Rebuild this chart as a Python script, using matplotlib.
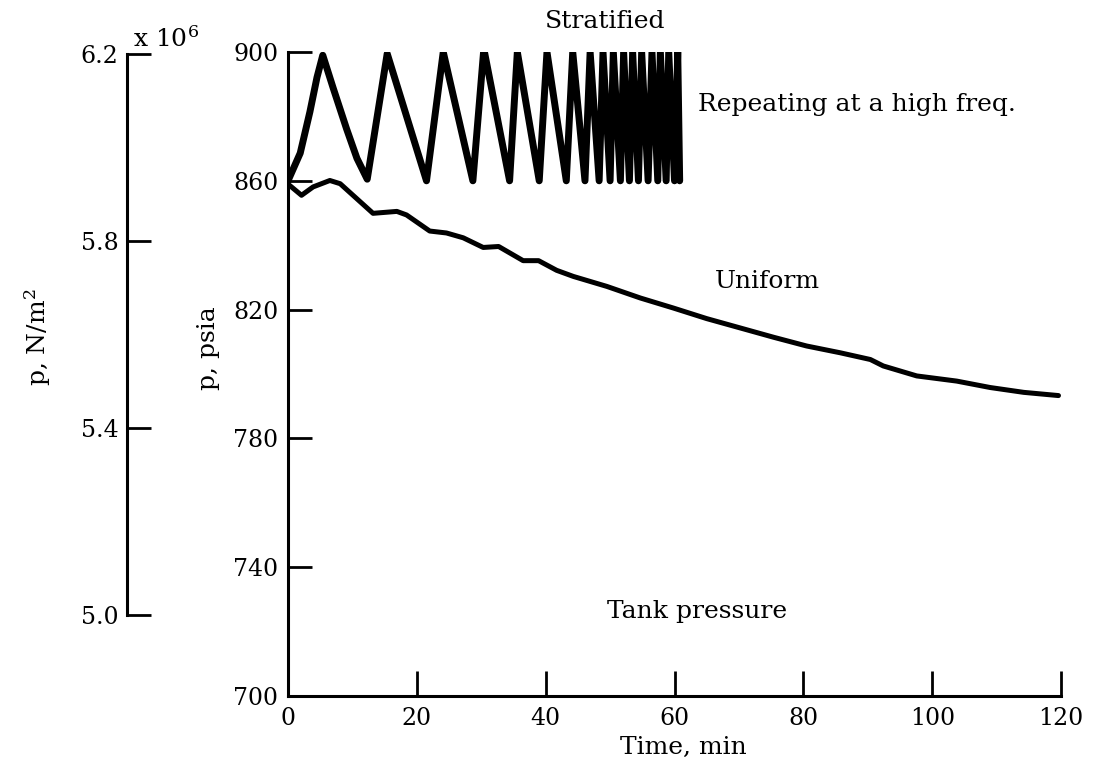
import numpy as np
import matplotlib.pyplot as plt

# tank pressure vs time
strat_t = [0, 1.9, 3.4, 4.5, 5.4, 7.0, 9.1, 10.7, 12.3, 15.4, 21.5, 24.1, 28.7, 30.4,
           34.4, 35.6, 39.0, 40.2, 43.2, 44.2, 46.1, 46.9, 48.3, 48.9, 50.0, 50.5,
           51.6, 52.1, 53.0, 53.5, 54.4, 54.9, 55.9, 56.5, 57.4, 57.8, 58.7, 59.1,
           60.0, 60.5, 60.8]
strat_p = [860, 868.6, 881.4, 892.1, 899, 888.9, 876.1, 867, 860.5, 899.5, 860, 900, 860, 901,
           860, 900, 860, 900, 860, 900, 860, 900, 860, 900, 860, 900,
           860, 900, 860, 900, 860, 900, 860, 900, 860, 900, 860, 900,
           860, 900, 860]

unif_t = [0, 2.1, 3.9, 6.5, 8.1, 13.2, 16.9, 18.4, 22.0, 24.6, 27.2, 30.3, 32.7, 36.5,
          38.9, 41.7, 44.3, 49.5, 54.7, 59.8, 65.0, 70.2, 75.4, 80.5, 85.7, 90.4,
          92.4, 97.6, 103.8, 109.0, 114.2, 119.6]
unif_p = [859, 855.5, 858.1, 860.1, 859.1, 849.9, 850.5, 849.4, 844.4, 843.8, 842.3, 839.3,
          839.6, 835.2, 835.2, 832.2, 830.3, 827.2, 823.6, 820.5, 817.2, 814.3, 811.4,
          808.7, 806.6, 804.5, 802.5, 799.4, 797.8, 795.8, 794.3, 793.3]

x_ticks = [0, 20, 40, 60, 80, 100, 120]
psi_ticks = [700, 740, 780, 820, 860, 900]
si_ticks = [5.0, 5.4, 5.8, 6.2]
si_labels = ["5.0", "5.4", "5.8", "6.2"]
PSI_TO_MNM2 = 0.006894757

plt.rcParams['font.family'] = ['DejaVu Serif']
plt.rcParams['mathtext.fontset'] = 'dejavuserif'
FS = 18     # annotation text
TFS = 17    # tick labels

fig = plt.figure(figsize=(10.95, 7.66), dpi=100)
ax = fig.add_axes([0.263, 0.0914, 0.706, 0.8407])

ax.plot(strat_t, strat_p, color='black', lw=5, solid_joinstyle='round', solid_capstyle='round')
ax.plot(unif_t, unif_p, color='black', lw=3.6, solid_joinstyle='round', solid_capstyle='round')

ax.set_xlim(0, 120)
ax.set_ylim(700, 900)
for s in ['top', 'right']:
    ax.spines[s].set_visible(False)
for s in ['left', 'bottom']:
    ax.spines[s].set_linewidth(2.2)
ax.set_xticks(x_ticks)
ax.set_yticks(psi_ticks)
ax.tick_params(axis='x', direction='in', length=18, width=2, pad=8, labelsize=TFS)
ax.tick_params(axis='y', direction='in', length=17, width=2, pad=7, labelsize=TFS)

ax.text(49.2, 909.5, "Stratified", fontsize=FS, ha='center', va='center', clip_on=False)
ax.text(63.7, 883.7, "Repeating at a high freq.", fontsize=FS, ha='left', va='center')
ax.text(66.3, 828.7, "Uniform", fontsize=FS, ha='left', va='center')
ax.text(49.5, 726.3, "Tank pressure", fontsize=FS, ha='left', va='center')

fig.text(683 / 1095, 1 - 747 / 766, "Time, min", fontsize=FS, ha='center', va='center')
fig.text(208 / 1095, 1 - 348 / 766, "p, psia", fontsize=FS, rotation=90, ha='center', va='center')

# N/m^2 scale on the left
ax2 = fig.add_axes([0.116, 0.0914, 0.01, 0.8407])
ax2.set_ylim(700 * PSI_TO_MNM2, 900 * PSI_TO_MNM2)
ax2.patch.set_visible(False)
for s in ['top', 'right', 'bottom']:
    ax2.spines[s].set_visible(False)
ax2.spines['left'].set_linewidth(2.2)
ax2.spines['left'].set_bounds(5.0, 6.2)
ax2.set_xticks([])
ax2.set_yticks(si_ticks)
ax2.set_yticklabels(si_labels)
ax2.tick_params(axis='y', direction='in', length=17, width=2, pad=6, labelsize=TFS)

fig.text(133 / 1095, 1 - 47 / 766, r"x 10$^{6}$", fontsize=FS, ha='left', va='baseline')
fig.text(38 / 1095, 1 - 337 / 766, r"p, N/m$^{2}$", fontsize=FS, rotation=90, ha='center', va='center')

fig.savefig('out.png', dpi=100)
